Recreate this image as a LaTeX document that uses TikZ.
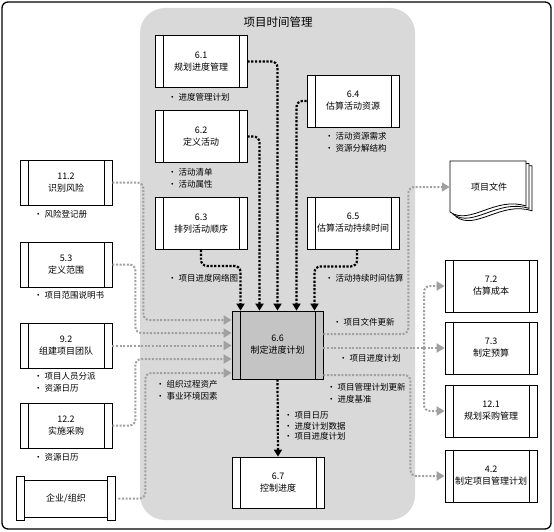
\documentclass[tikz,border=0pt]{standalone}
\usepackage{fontspec}
\setmainfont{Noto Sans CJK SC}
\usetikzlibrary{arrows.meta}
\definecolor{panelgray}{RGB}{217,217,217}
\definecolor{boxgray}{RGB}{196,196,196}
\definecolor{flowgray}{RGB}{160,160,160}
\begin{document}
\begin{tikzpicture}[x=1pt,y=-1pt,
    process/.style={draw, line width=0.8pt, fill=white, minimum width=92pt, minimum height=52pt,
        inner sep=0pt, align=center, font=\fontsize{9}{12}\selectfont,
        path picture={
            \draw[line width=0.8pt] ([xshift=8pt]path picture bounding box.north west) -- ([xshift=8pt]path picture bounding box.south west);
            \draw[line width=0.8pt] ([xshift=-8pt]path picture bounding box.north east) -- ([xshift=-8pt]path picture bounding box.south east);}},
    outside/.style={process, minimum height=45pt},
    lbl/.style={anchor=west, inner sep=0pt, align=left, font=\fontsize{8.5}{12}\selectfont},
    blackflow/.style={line width=2.2pt, dash pattern=on 2.2pt off 1.6pt, rounded corners=6pt,
        -{Triangle[width=8pt,length=7pt]}},
    grayflow/.style={flowgray, line width=2pt, dash pattern=on 2pt off 1.6pt, rounded corners=6pt,
        -{Triangle[width=9pt,length=8pt]}}]
    \useasboundingbox (0,0) rectangle (554,532);
    % Frame and panel
    \draw[line width=1.3pt, rounded corners=6pt] (2,2) rectangle (551,529);
    \fill[panelgray, rounded corners=25pt] (140,8) rectangle (415,520);
    \node[font=\fontsize{11.5}{14}\selectfont] (title) at (278,22) {项目时间管理};
    % Processes in the panel
    \node[process] (n61) at (201,61.5) {6.1\\规划进度管理};
    \node[process] (n62) at (201,136.5) {6.2\\定义活动};
    \node[process] (n63) at (201,223.5) {6.3\\排列活动顺序};
    \node[process] (n64) at (353,101) {6.4\\估算活动资源};
    \node[process] (n65) at (353,223) {6.5\\估算活动持续时间};
    \node[process, fill=boxgray, minimum width=91pt, minimum height=68pt] (n66) at (277.5,345) {6.6\\制定进度计划};
    \node[process, minimum height=51pt] (n67) at (278,482.5) {6.7\\控制进度};
    % Left-hand processes
    \node[outside] (n112) at (66,182.5) {11.2\\识别风险};
    \node[outside] (n53) at (66,264.5) {5.3\\定义范围};
    \node[outside] (n92) at (66,345.5) {9.2\\组建项目团队};
    \node[outside] (n122) at (66,425.5) {12.2\\实施采购};
    \node[draw, line width=0.8pt, fill=white, minimum width=98pt, minimum height=37pt,
        font=\fontsize{9}{12}\selectfont] (org) at (66,498.5) {企业/组织};
    \draw[line width=0.8pt, fill=white] ([yshift=3pt]org.north west) rectangle ([xshift=8pt,yshift=-3pt]org.south west);
    \draw[line width=0.8pt, fill=white] ([yshift=3pt]org.north east) rectangle ([xshift=-8pt,yshift=-3pt]org.south east);
    % Right-hand processes
    \node[process] (n72) at (491,286) {7.2\\估算成本};
    \node[process] (n73) at (491,348) {7.3\\制定预算};
    \node[process] (n121) at (491,411) {12.1\\规划采购管理};
    \node[process] (n42) at (491,476) {4.2\\制定项目管理计划};
    % Project documents
    \foreach \d in {6,3,0}
        \draw[line width=0.8pt, fill=white] (450+\d,161+0.8*\d) -- (526+\d,161+0.8*\d) -- (526+\d,206+0.8*\d)
            .. controls (495+\d,196+0.8*\d) and (470+\d,226+0.8*\d) .. (450+\d,212+0.8*\d) -- cycle;
    \node[minimum width=78pt, font=\fontsize{9}{12}\selectfont] (docs) at (489,187) {项目文件};
    % Labels
    \node[lbl] (l61) at (168,97) {• 进度管理计划};
    \node[lbl] (l62) at (168,178) {• 活动清单\\• 活动属性};
    \node[lbl] (l63) at (168,278) {• 项目进度网络图};
    \node[lbl] (l64) at (325,142) {• 活动资源需求\\• 资源分解结构};
    \node[lbl] (l65) at (325,278) {• 活动持续时间估算};
    \node[lbl] (l112) at (34,214) {• 风险登记册};
    \node[lbl] (l53) at (34,295) {• 项目范围说明书};
    \node[lbl] (l92) at (34,382.5) {• 项目人员分派\\• 资源日历};
    \node[lbl] (l122) at (34,457) {• 资源日历};
    \node[lbl] (lorg) at (156,390.5) {• 组织过程资产\\• 事业环境因素};
    \node[lbl, font=\fontsize{8.5}{10.3}\selectfont] (l67) at (284,426) {• 项目日历\\• 进度计划数据\\• 项目进度计划};
    \node[lbl] (ldocs) at (333,322) {• 项目文件更新};
    \node[lbl] (lsched) at (339,358) {• 项目进度计划};
    \node[lbl] (lplan) at (327,393) {• 项目管理计划更新\\• 进度基准};
    % Inputs from the panel
    \draw[blackflow] (n63.south) -- ++(0,16) -| ([xshift=-37pt]n66.north);
    \draw[blackflow] (n62.east) -| ([xshift=-18pt]n66.north);
    \draw[blackflow] (n61.east) -| (n66.north);
    \draw[blackflow] (n64.west) -| ([xshift=19pt]n66.north);
    \draw[blackflow] ([xshift=4pt]n65.south) -- ++(0,17) -| ([xshift=37pt]n66.north);
    \draw[blackflow] (n66.south) -- (n67.north);
    % Inputs from the left
    \draw[grayflow] (n112.east) -- ++(31,0) |- ([yshift=25pt]n66.west);
    \draw[grayflow] (n53.east) -- ++(23,0) |- ([yshift=12pt]n66.west);
    \draw[grayflow] (n92.east) -- (n92.east -| n66.west);
    \draw[grayflow] (n122.east) -- ++(23,0) |- ([yshift=-14pt]n66.west);
    \draw[grayflow] ([xshift=3pt]org.east) -- ++(27,0) |- ([yshift=-28pt]n66.west);
    % Outputs to the right
    \coordinate (fork) at (424,348);
    \draw[grayflow] ([yshift=11pt]n66.east) -- ++(85,0) |- (docs.west);
    \draw[grayflow] (n73.west -| n66.east) -- (n73.west);
    \draw[grayflow] (fork) |- (n72.west);
    \draw[grayflow] (fork) |- (n121.west);
    \draw[grayflow] ([yshift=-30pt]n66.east) -- ++(87,0) |- (n42.west);
\end{tikzpicture}
\end{document}
